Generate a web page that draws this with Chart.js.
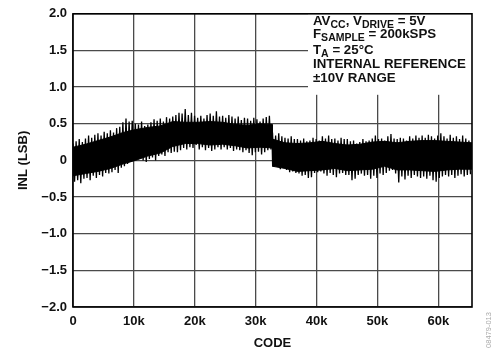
<!DOCTYPE html>
<html>
<head>
<meta charset="utf-8">
<script src="https://cdn.jsdelivr.net/npm/chart.js@4/dist/chart.umd.min.js"></script>
<style>
  body { margin: 0; background: #fff; }
  #wrap { width: 498px; height: 354px; position: relative; }
</style>
</head>
<body>
<div id="wrap"><canvas id="inl"></canvas></div>
<script>
// INL vs code.
// Needle tips: upper / lower extreme of the noise for every 512-code bin
const binSize = 512;
const bandHigh = [
    0.23, 0.26, 0.29, 0.25, 0.30, 0.34, 0.31, 0.35,
    0.37, 0.34, 0.39, 0.37, 0.41, 0.38, 0.44, 0.46,
    0.52, 0.57, 0.53, 0.54, 0.50, 0.49, 0.53, 0.47,
    0.49, 0.52, 0.56, 0.54, 0.57, 0.53, 0.59, 0.57,
    0.60, 0.62, 0.65, 0.64, 0.70, 0.62, 0.65, 0.61,
    0.58, 0.61, 0.57, 0.62, 0.64, 0.61, 0.67, 0.60,
    0.61, 0.58, 0.62, 0.60, 0.57, 0.60, 0.55, 0.58,
    0.57, 0.54, 0.58, 0.56, 0.53, 0.57, 0.59, 0.61,
    0.38, 0.34, 0.37, 0.33, 0.31, 0.30, 0.33, 0.29,
    0.29, 0.27, 0.30, 0.26, 0.27, 0.31, 0.29, 0.27,
    0.33, 0.30, 0.34, 0.29, 0.30, 0.27, 0.31, 0.29,
    0.29, 0.26, 0.27, 0.23, 0.25, 0.29, 0.26, 0.27,
    0.30, 0.34, 0.29, 0.30, 0.27, 0.33, 0.36, 0.30,
    0.29, 0.31, 0.30, 0.27, 0.33, 0.30, 0.34, 0.31,
    0.34, 0.31, 0.35, 0.33, 0.30, 0.34, 0.37, 0.33,
    0.30, 0.35, 0.31, 0.33, 0.29, 0.34, 0.30, 0.27
];
const bandLow = [
    -0.29, -0.27, -0.31, -0.25, -0.24, -0.27, -0.21, -0.24,
    -0.20, -0.22, -0.17, -0.18, -0.16, -0.13, -0.17, -0.10,
    -0.08, -0.05, -0.02, 0.00, 0.02, 0.04, 0.00, -0.02,
    0.02, 0.04, 0.00, 0.06, 0.08, 0.06, 0.11, 0.10,
    0.12, 0.11, 0.14, 0.17, 0.15, 0.18, 0.17, 0.21,
    0.15, 0.18, 0.14, 0.17, 0.13, 0.15, 0.18, 0.15,
    0.18, 0.15, 0.17, 0.13, 0.15, 0.14, 0.11, 0.14,
    0.10, 0.07, 0.11, 0.12, 0.08, 0.11, 0.14, 0.15,
    -0.09, -0.06, -0.12, -0.10, -0.13, -0.16, -0.15, -0.17,
    -0.18, -0.21, -0.20, -0.24, -0.23, -0.17, -0.16, -0.15,
    -0.18, -0.21, -0.17, -0.20, -0.23, -0.18, -0.17, -0.20,
    -0.20, -0.27, -0.25, -0.20, -0.18, -0.21, -0.20, -0.25,
    -0.21, -0.24, -0.18, -0.20, -0.17, -0.14, -0.13, -0.18,
    -0.30, -0.22, -0.26, -0.21, -0.24, -0.20, -0.22, -0.24,
    -0.22, -0.25, -0.21, -0.27, -0.29, -0.24, -0.22, -0.20,
    -0.22, -0.20, -0.24, -0.21, -0.19, -0.22, -0.20, -0.19
];

// solid body of the trace (where the noise is dense), every 2048 codes
const coreCodes = [0, 2048, 4096, 6144, 8192, 10240, 12288, 14336, 16384, 18432,
    20480, 22528, 24576, 26624, 28672, 30720, 32700, 32768, 34816, 36864,
    38912, 40960, 43008, 45056, 47104, 49152, 51200, 53248, 55296, 57344,
    59392, 61440, 63488, 65535];
const coreHigh = [0.18, 0.22, 0.27, 0.32, 0.38, 0.42, 0.45, 0.47, 0.53, 0.52,
    0.52, 0.53, 0.52, 0.49, 0.48, 0.50, 0.49, 0.29, 0.24, 0.23,
    0.24, 0.26, 0.23, 0.21, 0.22, 0.25, 0.26, 0.24, 0.26, 0.27,
    0.27, 0.26, 0.25, 0.24];
const coreLow = [-0.21, -0.18, -0.15, -0.11, -0.05, 0.00, 0.06, 0.10, 0.19, 0.23,
    0.23, 0.21, 0.22, 0.20, 0.17, 0.18, 0.17, -0.08, -0.11, -0.15,
    -0.14, -0.13, -0.11, -0.14, -0.13, -0.12, -0.08, -0.13, -0.13, -0.14,
    -0.15, -0.13, -0.12, -0.12];

const xTickValues = [0, 10000, 20000, 30000, 40000, 50000, 60000];
const xTickLabels = ['0', '10k', '20k', '30k', '40k', '50k', '60k'];
const yTickLabels = ['\u22122.0', '\u22121.5', '\u22121.0', '\u22120.5', '0', '0.5', '1.0', '1.5', '2.0'];

const noteLines = [
    [['AV'], ['CC', true], [', V'], ['DRIVE', true], [' = 5V']],
    [['F'], ['SAMPLE', true], [' = 200kSPS']],
    [['T'], ['A', true], [' = 25\u00B0C']],
    [['INTERNAL REFERENCE']],
    [['\u00B110V RANGE']]
];
const noteBaselines = [24.5, 38, 53.5, 67.5, 82];

// needles: zig-zag from each bin's top to its bottom
const needles = [];
bandHigh.forEach((h, i) => {
    needles.push({ x: i * binSize, y: h });
    needles.push({ x: i * binSize + binSize / 2, y: bandLow[i] });
});
const coreTop = coreCodes.map((c, i) => ({ x: c, y: coreHigh[i] }));
const coreBottom = coreCodes.map((c, i) => ({ x: c, y: coreLow[i] }));

const FONT = "'Liberation Sans', Arial, Helvetica, sans-serif";
Chart.defaults.font.family = FONT;
Chart.defaults.font.weight = 'bold';
Chart.defaults.font.size = 13;
Chart.defaults.color = '#111';

const notes = {
    id: 'notes',
    afterDraw(chart) {
        const { ctx, chartArea: a } = chart;
        ctx.save();

        // white box behind the conditions text
        ctx.fillStyle = '#fff';
        ctx.fillRect(308, a.top, a.right - 308, 81);

        // frame
        ctx.strokeStyle = '#000';
        ctx.lineWidth = 1.6;
        ctx.strokeRect(a.left, a.top, a.right - a.left, a.bottom - a.top);

        // conditions
        ctx.fillStyle = '#111';
        ctx.textBaseline = 'alphabetic';
        ctx.textAlign = 'left';
        noteLines.forEach((parts, li) => {
            let x = 313;
            const y = noteBaselines[li];
            parts.forEach(([t, sub]) => {
                ctx.font = sub ? `bold 10.5px ${FONT}` : `bold 13.3px ${FONT}`;
                ctx.fillText(t, x, sub ? y + 3 : y);
                x += ctx.measureText(t).width;
            });
        });

        // axis titles
        ctx.font = `bold 13px ${FONT}`;
        ctx.textAlign = 'center';
        ctx.fillText('CODE', (a.left + a.right) / 2, 347);
        ctx.save();
        ctx.translate(26.5, (a.top + a.bottom) / 2);
        ctx.rotate(-Math.PI / 2);
        ctx.fillText('INL (LSB)', 0, 0);
        ctx.restore();

        // figure number
        ctx.save();
        ctx.fillStyle = '#aaa';
        ctx.font = `7.5px ${FONT}`;
        ctx.translate(491, 330);
        ctx.rotate(-Math.PI / 2);
        ctx.fillText('08479-013', 0, 0);
        ctx.restore();

        ctx.restore();
    }
};

new Chart(document.getElementById('inl'), {
    type: 'line',
    data: {
        datasets: [{
            data: coreTop,
            borderColor: '#000',
            backgroundColor: '#000',
            borderWidth: 1,
            pointRadius: 0,
            tension: 0,
            fill: '+1'
        }, {
            data: coreBottom,
            borderColor: '#000',
            borderWidth: 1,
            pointRadius: 0,
            tension: 0,
            fill: false
        }, {
            data: needles,
            borderColor: '#000',
            borderWidth: 1.3,
            pointRadius: 0,
            tension: 0,
            fill: false
        }]
    },
    options: {
        responsive: true,
        maintainAspectRatio: false,
        animation: false,
        parsing: false,
        layout: { padding: { left: 0, top: 10, right: 26, bottom: 0 } },
        plugins: { legend: { display: false }, tooltip: { enabled: false } },
        scales: {
            x: {
                type: 'linear',
                min: 0,
                max: 65535,
                afterBuildTicks: s => { s.ticks = xTickValues.map(v => ({ value: v })); },
                afterFit: s => { s.height = 47; },
                ticks: {
                    padding: 7,
                    maxRotation: 0,
                    autoSkip: false,
                    callback: (v, i) => xTickLabels[i]
                },
                grid: { color: '#4a4a4a', lineWidth: 1.3, drawTicks: false },
                border: { display: false }
            },
            y: {
                min: -2,
                max: 2,
                afterFit: s => { s.width = 73; },
                ticks: {
                    stepSize: 0.5,
                    padding: 6,
                    callback: (v, i) => yTickLabels[i]
                },
                grid: { color: '#4a4a4a', lineWidth: 1.3, drawTicks: false },
                border: { display: false }
            }
        }
    },
    plugins: [notes]
});
</script>
</body>
</html>
